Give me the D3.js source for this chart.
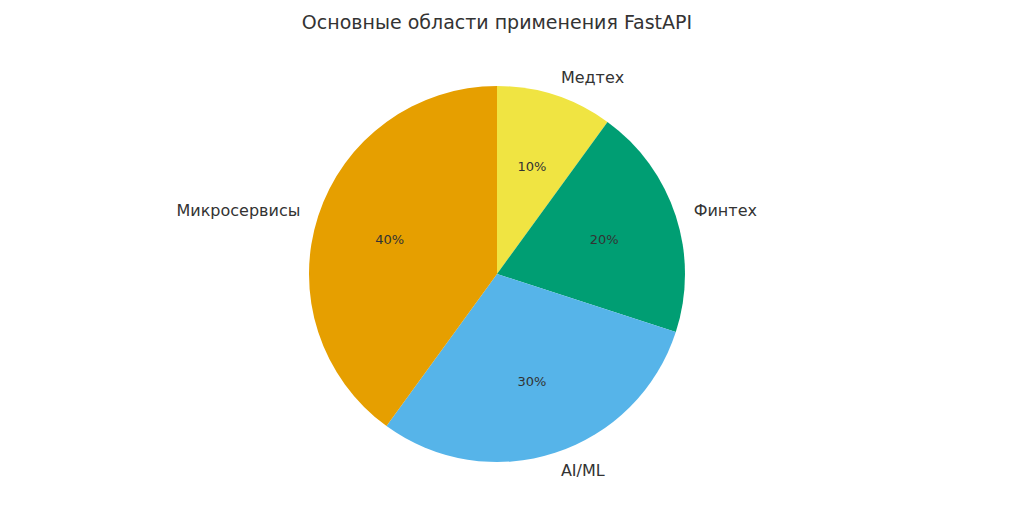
<!DOCTYPE html>
<html><head><meta charset="utf-8">
<script src="https://cdn.jsdelivr.net/npm/d3@7"></script>
<style>body{margin:0;background:#fff}text{font-family:"DejaVu Sans",sans-serif;fill:#333}</style>
</head><body>
<svg id="c" width="1024" height="525"></svg>
<script>
const categories = ["Медтех", "Финтех", "AI/ML", "Микросервисы"];
const values = [10, 20, 30, 40];
const colors = ["#F0E442", "#009E73", "#56B4E9", "#E69F00"];
const title = "Основные области применения FastAPI";

const svg = d3.select("#c");
const cx = 497, cy = 274, r = 188;
svg.append("text").attr("x", 497).attr("y", 29).attr("text-anchor", "middle")
  .attr("font-size", 19).text(title);
const pie = d3.pie().sort(null).value(d => d)(values);
const arc = d3.arc().innerRadius(0).outerRadius(r);
const g = svg.append("g").attr("transform", `translate(${cx},${cy})`);
g.selectAll("path").data(pie).join("path").attr("d", arc).attr("fill", (d, i) => colors[i]);
pie.forEach((d, i) => {
  const a = (d.startAngle + d.endAngle) / 2;
  const sx = Math.sin(a), sy = -Math.cos(a);
  g.append("text").attr("x", 0.6 * r * sx).attr("y", 0.6 * r * sy).attr("dy", "0.35em")
    .attr("text-anchor", "middle").attr("font-size", 13).text(values[i] + "%");
  g.append("text").attr("x", 1.1 * r * sx).attr("y", 1.1 * r * sy).attr("dy", "0.35em")
    .attr("text-anchor", sx >= 0 ? "start" : "end").attr("font-size", 16).text(categories[i]);
});
</script>
</body></html>
